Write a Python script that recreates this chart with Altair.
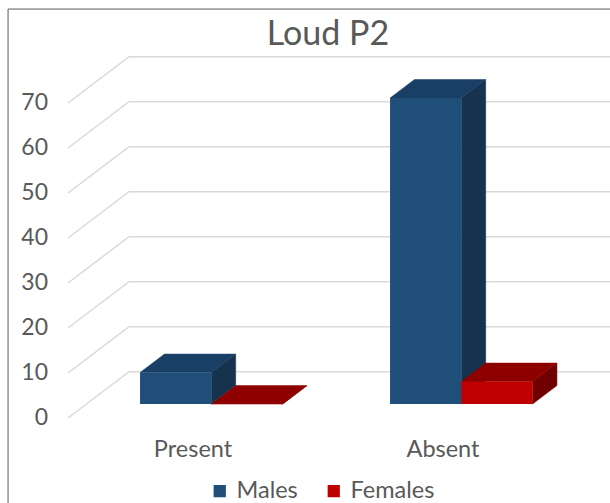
import altair as alt
import pandas as pd

# --- data -------------------------------------------------------------
categories = ["Present", "Absent"]
series_names = ["Males", "Females"]
males = [7, 68]
females = [0, 5]
tick_values = [0, 10, 20, 30, 40, 50, 60, 70]
title_text = "Loud P2"

# --- styling ------------------------------------------------------------
TEXT = "#595959"
GRID = "#d9d9d9"
FONT = "Lato"
face_colors = {
    "Males": {"front": "#1F4E79", "top": "#1A3F66", "side": "#16324F"},
    "Females": {"front": "#C00000", "top": "#8E0000", "side": "#700000"},
}

# oblique projection of the 3-D box: one full step in depth moves a point
# DEPTH_X category units to the right and DEPTH_Y value units upward
DEPTH_X = 0.244
DEPTH_Y = 10.3
FRONT_D, BACK_D = 0.3, 0.7      # depth slab occupied by the bars
GAP = 0.215                     # inset of the bar pair inside its category slot
BAR_W = 0.5 - GAP

W, H = 602, 494
PX_X, PX_Y = 250, 4.5           # pixels per category unit / per value unit
x_scale = alt.Scale(domain=[-60 / PX_X, -60 / PX_X + W / PX_X], nice=False, zero=False)
y_scale = alt.Scale(domain=[-(H - 409) / PX_Y, 409 / PX_Y], nice=False, zero=False)


def X(f="x:Q"):
    return alt.X(f, scale=x_scale, axis=None)


def Y(f="y:Q"):
    return alt.Y(f, scale=y_scale, axis=None)


# --- geometry built from the values ------------------------------------
values = {"Males": males, "Females": females}
front_rows, face_layers = [], []
for i, cat in enumerate(categories):
    for s, name in enumerate(series_names):
        v = values[name][i]
        left = i + GAP + s * BAR_W
        right = left + BAR_W
        front_rows.append(dict(series=name,
                               x=left + FRONT_D * DEPTH_X, x2=right + FRONT_D * DEPTH_X,
                               y=FRONT_D * DEPTH_Y, y2=v + FRONT_D * DEPTH_Y))
        depths = [FRONT_D, BACK_D]
        # right-hand side face: vertical edges joined front to back
        side_df = pd.DataFrame({
            "x": [right + d * DEPTH_X for d in depths],
            "y": [d * DEPTH_Y for d in depths],
            "y2": [v + d * DEPTH_Y for d in depths],
        })
        # top face: horizontal edges joined front to back
        top_df = pd.DataFrame({
            "y": [v + d * DEPTH_Y for d in depths],
            "x": [left + d * DEPTH_X for d in depths],
            "x2": [right + d * DEPTH_X for d in depths],
        })
        side = alt.Chart(side_df).mark_area(
            color=face_colors[name]["side"], stroke=face_colors[name]["side"], strokeWidth=0.5
        ).encode(x=X(), y=Y(), y2="y2:Q")
        top = alt.Chart(top_df).mark_area(
            orient="horizontal", color=face_colors[name]["top"],
            stroke=face_colors[name]["top"], strokeWidth=0.5
        ).encode(y=Y(), x=X(), x2="x2:Q")
        face_layers.append((side, top))

grid_rows = []
for t in tick_values:
    for k, (gx, gd) in enumerate([(0, 0), (0, 1), (len(categories), 1)]):
        grid_rows.append(dict(tick=t, k=k, x=gx + gd * DEPTH_X, y=t + gd * DEPTH_Y))

front_df = pd.DataFrame(front_rows)
grid_df = pd.DataFrame(grid_rows)
ytick_df = pd.DataFrame({"x": [0] * len(tick_values), "y": tick_values,
                         "label": [str(t) for t in tick_values]})
cat_df = pd.DataFrame({"x": [i + 0.5 for i in range(len(categories))],
                       "y": [0] * len(categories), "label": categories})

grid = alt.Chart(grid_df).mark_line(color=GRID, strokeWidth=1.5, clip=True).encode(
    x=X(), y=Y(), detail="tick:N", order="k:Q",
)

fronts = alt.Chart(front_df).mark_rect().encode(
    x=X(), x2="x2:Q", y=Y(), y2="y2:Q",
    color=alt.Color(
        "series:N",
        scale=alt.Scale(domain=series_names,
                        range=[face_colors[n]["front"] for n in series_names]),
        legend=alt.Legend(orient="none", legendX=200, legendY=470, direction="horizontal",
                          title=None, symbolType="square", symbolSize=150,
                          symbolStrokeWidth=0, symbolOpacity=1,
                          labelFontSize=23.5, labelFont=FONT, labelColor=TEXT,
                          labelOffset=5, columnPadding=24),
    ),
)

# value labels of the front wall and category labels under the floor
ytick_text = alt.Chart(ytick_df).mark_text(
    align="right", baseline="middle", dx=-20, fontSize=23, font=FONT, color=TEXT
).encode(x=X(), y=Y(), text="label:N")

cat_text = alt.Chart(cat_df).mark_text(
    align="center", baseline="middle", dy=32, fontSize=23.5, font=FONT, color=TEXT
).encode(x=X(), y=Y(), text="label:N")

title = alt.Chart(cat_df.head(1)).mark_text(
    align="center", baseline="middle", fontSize=34, font=FONT, color=TEXT
).encode(x=alt.value(320), y=alt.value(26), text=alt.value(title_text))

# chart-area frame (left and top edges)
frame_left = alt.Chart(cat_df.head(1)).mark_rule(color="#6b6b6b", strokeWidth=1).encode(
    x=alt.value(0), y=alt.value(0), y2=alt.value(H))
frame_top = alt.Chart(cat_df.head(1)).mark_rule(color="#6b6b6b", strokeWidth=1).encode(
    x=alt.value(0), x2=alt.value(W), y=alt.value(0))

# bars are stacked in drawing order: for each bar its side, then top
bar_layers = []
for side, top in face_layers:
    bar_layers += [side, top]

chart = alt.layer(grid, *bar_layers, fronts, ytick_text, cat_text, title,
                  frame_left, frame_top).properties(
    width=W, height=H,
    autosize=alt.AutoSizeParams(type="none"),
    padding={"left": 8, "top": 9, "right": 0, "bottom": 0},
).configure_view(stroke=None).configure(background="white")

chart.save("out.html", embed_options={"renderer": "svg", "actions": False})
